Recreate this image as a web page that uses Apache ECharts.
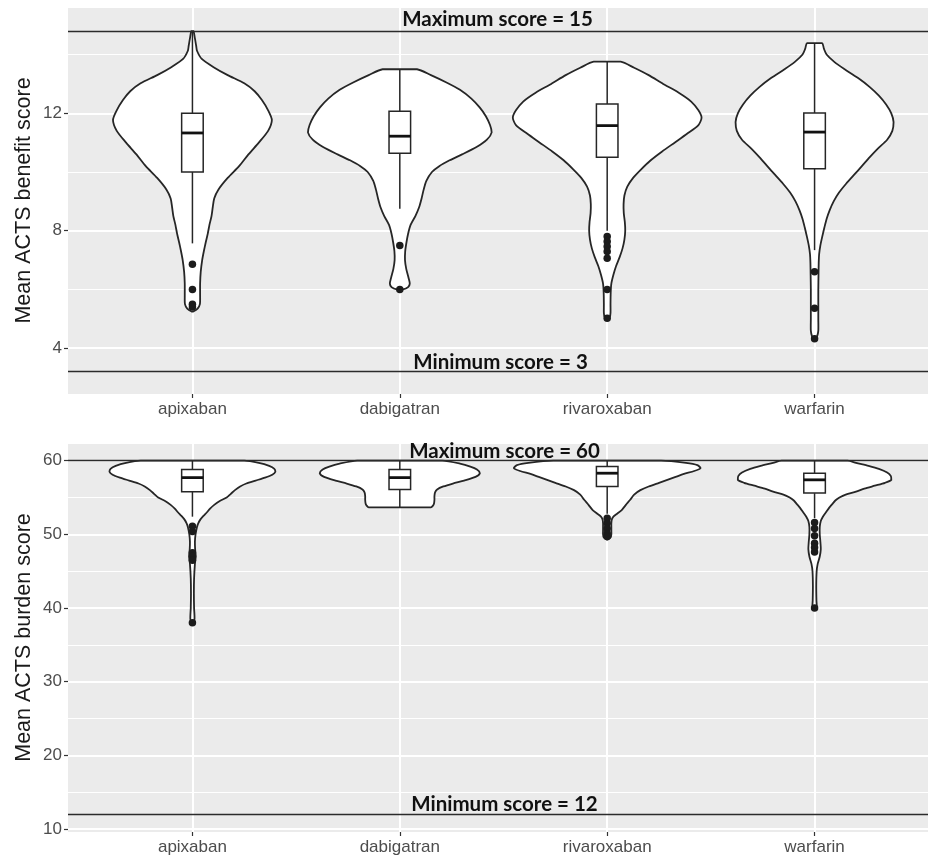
<!DOCTYPE html>
<html>
<head>
<meta charset="utf-8">
<script src="https://cdn.jsdelivr.net/npm/echarts@6/dist/echarts.min.js"></script>
<style>
html,body{margin:0;padding:0;background:#ffffff;}
#main{width:928px;height:859px;}
</style>
</head>
<body>
<div id="main"></div>
<script>
// ---------------- data ----------------
const categories = ['apixaban', 'dabigatran', 'rivaroxaban', 'warfarin'];
const categoryPositions = [0, 1, 2, 3];

const benefitTicks = [4, 8, 12];
const burdenTicks = [10, 20, 30, 40, 50, 60];

const benefitRefLines = [14.8, 3.2];
const benefitRefLabels = ['Maximum score = 15', 'Minimum score = 3'];
const burdenRefLines = [60, 12];
const burdenRefLabels = ['Maximum score = 60', 'Minimum score = 12'];

// violin outlines: [score, half-width in category units]
const benefitViolinApixaban = [[14.8,0.005],[14.55,0.012],[14.3,0.018],[14.13,0.022],[13.85,0.045],[13.58,0.1],[13.3,0.17],[13.02,0.25],[12.75,0.3],[12.45,0.335],[12.1,0.365],[11.77,0.383],[11.4,0.365],[11.0,0.32],[10.6,0.27],[10.2,0.225],[9.8,0.17],[9.4,0.125],[9.1,0.105],[8.8,0.098],[8.5,0.092],[8.2,0.082],[7.9,0.074],[7.6,0.064],[7.3,0.055],[7.0,0.047],[6.6,0.04],[6.2,0.037],[5.8,0.037],[5.5,0.036],[5.35,0.025],[5.25,0.004]];
const benefitViolinDabigatran = [[13.5,0.083],[13.3,0.15],[13.05,0.225],[12.8,0.29],[12.5,0.345],[12.2,0.385],[11.9,0.415],[11.6,0.435],[11.35,0.443],[11.1,0.42],[10.85,0.37],[10.6,0.3],[10.4,0.24],[10.2,0.19],[10.0,0.155],[9.7,0.128],[9.4,0.115],[9.1,0.105],[8.8,0.093],[8.5,0.075],[8.2,0.052],[7.9,0.04],[7.6,0.032],[7.3,0.026],[7.0,0.025],[6.7,0.031],[6.4,0.042],[6.2,0.048],[6.08,0.04],[6.0,0.015]];
const benefitViolinRivaroxaban = [[13.76,0.065],[13.55,0.13],[13.3,0.2],[13.0,0.27],[12.7,0.345],[12.4,0.405],[12.1,0.44],[11.85,0.455],[11.6,0.44],[11.3,0.385],[11.0,0.325],[10.7,0.265],[10.4,0.21],[10.1,0.165],[9.8,0.125],[9.5,0.097],[9.2,0.083],[8.9,0.079],[8.6,0.08],[8.3,0.085],[8.0,0.087],[7.7,0.083],[7.4,0.074],[7.1,0.06],[6.8,0.043],[6.5,0.03],[6.2,0.02],[5.9,0.017],[5.5,0.016],[5.2,0.016],[5.05,0.012],[5.0,0.003]];
const benefitViolinWarfarin = [[14.39,0.036],[14.2,0.045],[14.0,0.058],[13.75,0.095],[13.5,0.145],[13.2,0.21],[12.9,0.265],[12.6,0.31],[12.3,0.345],[12.0,0.37],[11.7,0.381],[11.4,0.375],[11.1,0.35],[10.8,0.305],[10.5,0.265],[10.2,0.228],[9.9,0.19],[9.6,0.152],[9.3,0.118],[9.0,0.092],[8.7,0.073],[8.4,0.058],[8.1,0.047],[7.8,0.037],[7.5,0.028],[7.2,0.022],[6.9,0.02],[6.5,0.019],[6.0,0.018],[5.5,0.018],[5.0,0.018],[4.6,0.018],[4.4,0.012],[4.32,0.003]];

const burdenViolinApixaban = [[60,0.25],[59.7,0.32],[59.3,0.37],[58.9,0.395],[58.5,0.4],[58.1,0.385],[57.7,0.35],[57.3,0.305],[56.9,0.26],[56.5,0.23],[56.0,0.205],[55.5,0.185],[55.0,0.165],[54.5,0.13],[54.0,0.105],[53.5,0.085],[53.0,0.07],[52.5,0.053],[52.0,0.038],[51.5,0.028],[51.0,0.022],[50.0,0.015],[49.0,0.012],[48.0,0.013],[47.0,0.016],[46.0,0.012],[44.0,0.008],[42.0,0.007],[40.0,0.008],[38.5,0.01],[38.0,0.002]];
const burdenViolinDabigatran = [[60,0.205],[59.6,0.29],[59.2,0.34],[58.8,0.372],[58.3,0.386],[57.8,0.365],[57.3,0.31],[56.9,0.256],[56.5,0.21],[56.1,0.18],[55.7,0.17],[55.2,0.167],[54.7,0.167],[54.2,0.165],[53.9,0.16],[53.65,0.15]];
const burdenViolinRivaroxaban = [[60,0.26],[59.7,0.38],[59.4,0.435],[59.0,0.45],[58.6,0.42],[58.2,0.37],[57.8,0.33],[57.4,0.29],[57.0,0.25],[56.5,0.2],[56.0,0.16],[55.4,0.13],[54.7,0.111],[54.0,0.09],[53.3,0.07],[52.8,0.048],[52.4,0.03],[52.0,0.022],[51.5,0.02],[51.0,0.02],[50.5,0.02],[50.0,0.02],[49.6,0.017],[49.3,0.003]];
const burdenViolinWarfarin = [[60,0.16],[59.7,0.2],[59.3,0.26],[58.9,0.31],[58.4,0.35],[57.9,0.368],[57.4,0.37],[57.0,0.34],[56.6,0.29],[56.2,0.24],[55.8,0.2],[55.4,0.15],[55.0,0.12],[54.6,0.1],[54.1,0.085],[53.6,0.07],[53.0,0.055],[52.4,0.04],[51.8,0.03],[51.0,0.025],[50.0,0.025],[49.0,0.028],[48.0,0.03],[47.0,0.025],[46.0,0.015],[45.0,0.01],[43.0,0.008],[41.0,0.009],[40.3,0.01],[40.0,0.002]];

// box stats: [lower whisker, Q1, median, Q3, upper whisker]
const benefitBoxStats = [[7.57,10.0,11.33,12.0,14.8],[8.75,10.64,11.22,12.07,13.5],[8.0,10.5,11.58,12.32,13.76],[7.34,10.11,11.36,12.01,14.39]];
const burdenBoxStats = [[52.4,55.8,57.7,58.8,60],[53.6,56.1,57.7,58.8,60],[52.8,56.5,58.3,59.2,60],[52.2,55.6,57.4,58.3,60]];

// outliers per category
const benefitOutliers = [[6.86,6.0,5.5,5.4],[7.5,6.0],[7.8,7.63,7.46,7.29,7.06,6.0,5.02],[6.6,5.36,4.32]];
const burdenOutliers = [[51.1,50.4,47.5,47.0,46.5,38.0],[],[52.2,51.5,50.8,50.1,49.7],[51.6,50.8,49.8,48.8,48.2,47.6,40.0]];

// ---------------- styling helpers ----------------
const FONT = 'Liberation Sans, Arial, Helvetica, sans-serif';
const ANNOT_FONT = 'Lato, "Open Sans", sans-serif';
const INK = '#262626';

function violinRender(profiles) {
  return function (params, api) {
    const i = api.value(0);
    const prof = profiles[i];
    const right = prof.map(p => api.coord([i + p[1], p[0]]));
    const left = prof.slice().reverse().map(p => api.coord([i - p[1], p[0]]));
    const pts = right.concat(left);
    let minX = Infinity, minY = Infinity, maxX = -Infinity, maxY = -Infinity;
    pts.forEach(p => { minX = Math.min(minX, p[0]); maxX = Math.max(maxX, p[0]); minY = Math.min(minY, p[1]); maxY = Math.max(maxY, p[1]); });
    return {
      type: 'polygon',
      shape: { points: pts, smooth: 0.25, smoothConstraint: [[minX, minY], [maxX, maxY]] },
      style: { fill: '#ffffff', stroke: INK, lineWidth: 1.8 }
    };
  };
}

function boxRender(stats) {
  const bw = 0.052;
  return function (params, api) {
    const i = api.value(0);
    const s = stats[i];
    const low = api.coord([i, s[0]]);
    const q1 = api.coord([i, s[1]]);
    const q3 = api.coord([i, s[3]]);
    const high = api.coord([i, s[4]]);
    const bl = api.coord([i - bw, s[1]]);
    const tr = api.coord([i + bw, s[3]]);
    const ml = api.coord([i - bw, s[2]]);
    const mr = api.coord([i + bw, s[2]]);
    const ls = { stroke: INK, lineWidth: 1.5 };
    return {
      type: 'group',
      children: [
        { type: 'line', shape: { x1: low[0], y1: low[1], x2: q1[0], y2: q1[1] }, style: ls },
        { type: 'line', shape: { x1: q3[0], y1: q3[1], x2: high[0], y2: high[1] }, style: ls },
        { type: 'rect', shape: { x: bl[0], y: tr[1], width: tr[0] - bl[0], height: bl[1] - tr[1] }, style: { fill: '#ffffff', stroke: INK, lineWidth: 1.5 } },
        { type: 'line', shape: { x1: ml[0], y1: ml[1], x2: mr[0], y2: mr[1] }, style: { stroke: '#111111', lineWidth: 2.8 } }
      ]
    };
  };
}

function xAxisFor(gridIndex) {
  return {
    type: 'value', gridIndex: gridIndex, position: 'bottom', min: -0.6, max: 3.6, minInterval: 1, maxInterval: 1,
    axisLine: { show: false, onZero: false },
    axisTick: { show: true, length: 4, customValues: categoryPositions, lineStyle: { color: '#333333', width: 1.2 } },
    axisLabel: { customValues: categoryPositions, formatter: v => categories[Math.round(v)] || '', color: '#4d4d4d', fontSize: 17, fontFamily: FONT, margin: 7 },
    splitLine: { show: true, lineStyle: { color: '#ffffff', width: 2 } }
  };
}

function yMajor(gridIndex, min, max, step, ticks, name) {
  return {
    type: 'value', gridIndex: gridIndex, position: 'left', min: min, max: max, minInterval: step, maxInterval: step,
    name: name, nameLocation: 'middle', nameGap: 33, nameMoveOverlap: false,
    nameTextStyle: { fontSize: 21.5, color: '#1a1a1a', fontFamily: FONT },
    axisLine: { show: false, onZero: false },
    axisTick: { show: true, length: 4, customValues: ticks, lineStyle: { color: '#333333', width: 1.2 } },
    axisLabel: { customValues: ticks, color: '#4d4d4d', fontSize: 17, fontFamily: FONT, margin: 6 },
    splitLine: { show: true, lineStyle: { color: '#ffffff', width: 2 } }
  };
}

function yMinor(gridIndex, min, max, step) {
  return {
    type: 'value', gridIndex: gridIndex, position: 'right', min: min, max: max, minInterval: step, maxInterval: step,
    axisLine: { show: false, onZero: false }, axisTick: { show: false }, axisLabel: { show: false },
    splitLine: { show: true, lineStyle: { color: '#ffffff', width: 1.1 } }
  };
}

function refLines(values, labels, offsets) {
  return {
    silent: true, symbol: ['none', 'none'], animation: false,
    lineStyle: { color: '#2b2b2b', width: 1.3, type: 'solid' },
    label: { show: true, position: 'insideMiddleTop', distance: 2, fontFamily: ANNOT_FONT, fontWeight: 'bold', fontSize: 20.5, color: '#111111' },
    data: values.map((v, k) => ({ yAxis: v, label: { formatter: labels[k], offset: offsets[k] } }))
  };
}

function outlierPoints(list) {
  const pts = [];
  list.forEach((arr, i) => arr.forEach(v => pts.push([i, v])));
  return pts;
}

const benefitViolins = [benefitViolinApixaban, benefitViolinDabigatran, benefitViolinRivaroxaban, benefitViolinWarfarin];
const burdenViolins = [burdenViolinApixaban, burdenViolinDabigatran, burdenViolinRivaroxaban, burdenViolinWarfarin];

const chart = echarts.init(document.getElementById('main'), null, { renderer: 'canvas' });
chart.setOption({
  animation: false,
  backgroundColor: '#ffffff',
  textStyle: { fontFamily: FONT },
  grid: [
    { left: 68, right: -11, top: 7, height: 387, show: true, backgroundColor: '#ebebeb', borderWidth: 0, containLabel: false, outerBoundsMode: 'none' },
    { left: 68, right: -11, top: 443, height: 389, show: true, backgroundColor: '#ebebeb', borderWidth: 0, containLabel: false, outerBoundsMode: 'none' }
  ],
  xAxis: [xAxisFor(0), xAxisFor(1)],
  yAxis: [
    yMajor(0, 2.44, 15.62, 4, benefitTicks, 'Mean ACTS benefit score'),
    yMinor(0, 2.44, 15.62, 2),
    yMajor(1, 9.6, 62.4, 10, burdenTicks, 'Mean ACTS burden score'),
    yMinor(1, 9.6, 62.4, 5)
  ],
  series: [
    { type: 'custom', xAxisIndex: 0, yAxisIndex: 0, z: 2, renderItem: violinRender(benefitViolins), data: benefitBoxStats.map((s, i) => [i, s[2]]), silent: true },
    { type: 'custom', xAxisIndex: 0, yAxisIndex: 0, z: 3, renderItem: boxRender(benefitBoxStats), data: benefitBoxStats.map((s, i) => [i, s[2]]), silent: true },
    { type: 'scatter', xAxisIndex: 0, yAxisIndex: 0, z: 4, symbolSize: 7.5, itemStyle: { color: '#1c1c1c', opacity: 1 }, data: outlierPoints(benefitOutliers), silent: true,
      markLine: refLines(benefitRefLines, benefitRefLabels, [[-6, 1], [-3, 3]]) },
    { type: 'custom', xAxisIndex: 1, yAxisIndex: 2, z: 2, renderItem: violinRender(burdenViolins), data: burdenBoxStats.map((s, i) => [i, s[2]]), silent: true },
    { type: 'custom', xAxisIndex: 1, yAxisIndex: 2, z: 3, renderItem: boxRender(burdenBoxStats), data: burdenBoxStats.map((s, i) => [i, s[2]]), silent: true },
    { type: 'scatter', xAxisIndex: 1, yAxisIndex: 2, z: 4, symbolSize: 7.5, itemStyle: { color: '#1c1c1c', opacity: 1 }, data: outlierPoints(burdenOutliers), silent: true,
      markLine: refLines(burdenRefLines, burdenRefLabels, [[1, 3], [1, 3]]) }
  ]
});
</script>
</body>
</html>
